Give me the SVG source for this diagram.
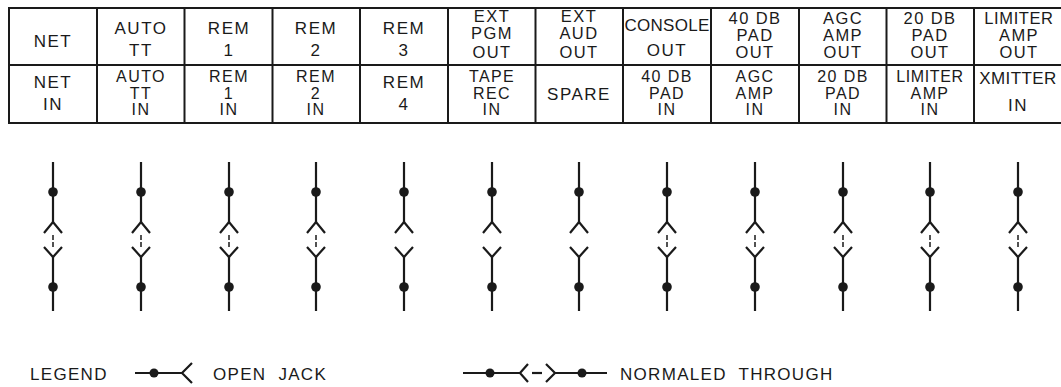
<svg xmlns="http://www.w3.org/2000/svg" width="1061" height="387" viewBox="0 0 1061 387">
<style>
.bg{fill:#fff}
.grid{stroke:#1a1a1a;stroke-width:2;fill:none}
.t{font-family:"Liberation Sans",Arial,sans-serif;font-size:17px;letter-spacing:1.5px;fill:#1a1a1a;text-anchor:middle}
.s{font-size:16.5px;letter-spacing:1.4px}
.b{font-size:16px;letter-spacing:1.4px}
.w{stroke:#1a1a1a;stroke-width:2.2;fill:none;stroke-linecap:butt}
.d{stroke:#1a1a1a;stroke-width:1.5;stroke-dasharray:5 2;fill:none}
.dot{fill:#1a1a1a}
.lg{font-family:"Liberation Sans",Arial,sans-serif;font-size:17px;letter-spacing:1.3px;word-spacing:6px;fill:#1a1a1a}
</style>
<defs>
<g id="top">
<line class="w" x1="0" y1="162" x2="0" y2="222"/>
<circle class="dot" cx="0" cy="192" r="4.8"/>
<polyline class="w" points="-9,233 0,222 9,233"/>
</g>
<g id="bot">
<polyline class="w" points="-9,247 0,257 9,247"/>
<line class="w" x1="0" y1="257" x2="0" y2="311"/>
<circle class="dot" cx="0" cy="287" r="4.8"/>
</g>
<g id="norm">
<use href="#top"/>
<line class="d" x1="0" y1="235" x2="0" y2="247"/>
<use href="#bot"/>
</g>
<g id="open">
<use href="#top"/>
<use href="#bot"/>
</g>
</defs>
<rect class="bg" width="1061" height="387"/>
<g id="panel">
<rect class="grid" x="9" y="8" width="1054" height="115"/>
<line class="grid" x1="9" y1="65" x2="1063" y2="65" stroke-width="2.6"/>
<path class="grid" d="M97,8V123M184.5,8V123M272.5,8V123M360,8V123M448,8V123M535.5,8V123M623,8V123M711,8V123M799,8V123M886.5,8V123M974,8V123"/>
</g>
<g id="labels-out">
<text class="t" x="53" y="47">NET</text>
<text class="t" x="141" y="34">AUTO<tspan x="141" y="56">TT</tspan></text>
<text class="t" x="229" y="34">REM<tspan x="229" y="56">1</tspan></text>
<text class="t" x="316" y="34">REM<tspan x="316" y="56">2</tspan></text>
<text class="t" x="404" y="34">REM<tspan x="404" y="56">3</tspan></text>
<text class="t s" x="492" y="22">EXT<tspan x="492" y="39">PGM</tspan><tspan x="492" y="58">OUT</tspan></text>
<text class="t s" x="579" y="22">EXT<tspan x="579" y="39">AUD</tspan><tspan x="579" y="58">OUT</tspan></text>
<text class="t" x="667" y="31" style="letter-spacing:0.3px">CONSOLE<tspan x="667" y="56" style="letter-spacing:1.5px">OUT</tspan></text>
<text class="t s" x="755" y="24">40 DB<tspan x="755" y="41">PAD</tspan><tspan x="755" y="58">OUT</tspan></text>
<text class="t s" x="843" y="24">AGC<tspan x="843" y="41">AMP</tspan><tspan x="843" y="58">OUT</tspan></text>
<text class="t s" x="930" y="24">20 DB<tspan x="930" y="41">PAD</tspan><tspan x="930" y="58">OUT</tspan></text>
<text class="t s" x="1019" y="24" style="letter-spacing:0.6px">LIMITER<tspan x="1019" y="41" style="letter-spacing:1.4px">AMP</tspan><tspan x="1019" y="58" style="letter-spacing:1.4px">OUT</tspan></text>
</g>
<g id="labels-in">
<text class="t" x="53" y="88">NET<tspan x="53" y="110">IN</tspan></text>
<text class="t b" x="141" y="82">AUTO<tspan x="141" y="98.5">TT</tspan><tspan x="141" y="115">IN</tspan></text>
<text class="t b" x="229" y="82">REM<tspan x="229" y="98.5">1</tspan><tspan x="229" y="115">IN</tspan></text>
<text class="t b" x="316" y="82">REM<tspan x="316" y="98.5">2</tspan><tspan x="316" y="115">IN</tspan></text>
<text class="t" x="404" y="88">REM<tspan x="404" y="110">4</tspan></text>
<text class="t b" x="492" y="82">TAPE<tspan x="492" y="98.5">REC</tspan><tspan x="492" y="115">IN</tspan></text>
<text class="t" x="579" y="100">SPARE</text>
<text class="t b" x="667" y="82">40 DB<tspan x="667" y="98.5">PAD</tspan><tspan x="667" y="115">IN</tspan></text>
<text class="t b" x="755" y="82">AGC<tspan x="755" y="98.5">AMP</tspan><tspan x="755" y="115">IN</tspan></text>
<text class="t b" x="843" y="82">20 DB<tspan x="843" y="98.5">PAD</tspan><tspan x="843" y="115">IN</tspan></text>
<text class="t b" x="930" y="82" style="letter-spacing:0.6px">LIMITER<tspan x="930" y="98.5" style="letter-spacing:1.4px">AMP</tspan><tspan x="930" y="115" style="letter-spacing:1.4px">IN</tspan></text>
<text class="t" x="1018" y="84" style="letter-spacing:0.4px">XMITTER<tspan x="1018" y="111" style="letter-spacing:1.5px">IN</tspan></text>
</g>
<g id="connectors">
<use href="#norm" x="53"/>
<use href="#norm" x="141"/>
<use href="#norm" x="229"/>
<use href="#norm" x="316"/>
<use href="#open" x="404"/>
<use href="#open" x="492"/>
<use href="#open" x="579"/>
<use href="#norm" x="667"/>
<use href="#norm" x="755"/>
<use href="#norm" x="843"/>
<use href="#norm" x="930"/>
<use href="#norm" x="1018"/>
</g>
<g id="legend">
<text class="lg" x="30" y="380">LEGEND</text>
<line class="w" x1="135" y1="373" x2="182" y2="373"/>
<circle class="dot" cx="154" cy="373" r="4.5"/>
<polyline class="w" points="192,363 182,373 192,383"/>
<text class="lg" x="213" y="380">OPEN JACK</text>
<line class="w" x1="463" y1="373" x2="520" y2="373"/>
<circle class="dot" cx="490" cy="373" r="4.5"/>
<polyline class="w" points="528,364 520,373 528,382"/>
<line class="w" x1="532" y1="373" x2="542" y2="373"/>
<polyline class="w" points="546,364 555,373 546,382"/>
<line class="w" x1="555" y1="373" x2="607" y2="373"/>
<circle class="dot" cx="582" cy="373" r="4.5"/>
<text class="lg" x="620" y="380">NORMALED THROUGH</text>
</g>
</svg>
